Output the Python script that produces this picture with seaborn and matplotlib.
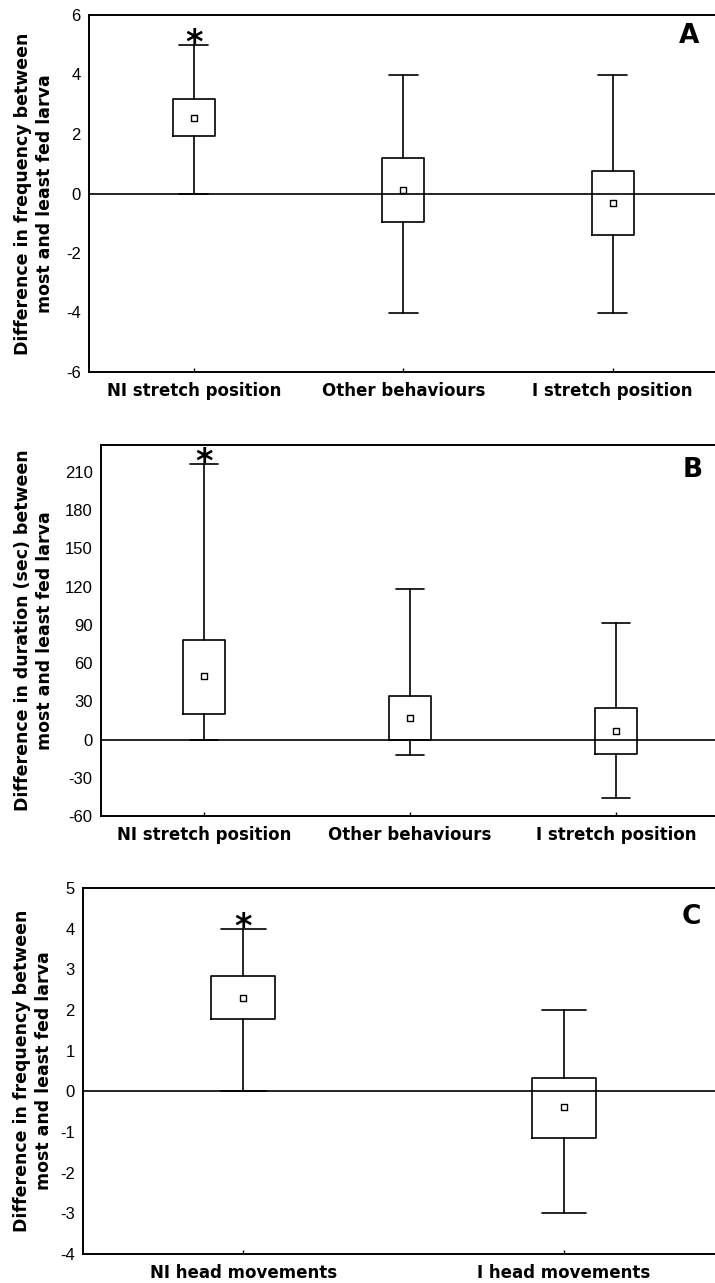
import numpy as np
import seaborn as sns
import matplotlib
matplotlib.use("Agg")
import matplotlib.pyplot as plt

# Panel A - frequency
a_cats = ["NI stretch position", "Other behaviours", "I stretch position"]
a_mean = [2.55, 0.12, -0.33]
a_box_lo = [1.92, -0.95, -1.38]
a_box_hi = [3.18, 1.20, 0.77]
a_whis_lo = [0, -4, -4]
a_whis_hi = [5, 4, 4]
a_sig = [True, False, False]

# Panel B - duration (sec)
b_cats = ["NI stretch position", "Other behaviours", "I stretch position"]
b_mean = [50, 17, 7]
b_box_lo = [20, 0, -11]
b_box_hi = [78, 34, 25]
b_whis_lo = [0, -12.5, -46]
b_whis_hi = [216, 118, 91]
b_sig = [True, False, False]

# Panel C - head movements
c_cats = ["NI head movements", "I head movements"]
c_mean = [2.3, -0.38]
c_box_lo = [1.78, -1.15]
c_box_hi = [2.83, 0.34]
c_whis_lo = [0, -3]
c_whis_hi = [4, 2]
c_sig = [True, False]

sns.set_style("white")
plt.rcParams["font.family"] = ["Liberation Sans", "DejaVu Sans"]
plt.rcParams["axes.unicode_minus"] = False
plt.rcParams["text.color"] = "black"
plt.rcParams["xtick.color"] = "black"
plt.rcParams["ytick.color"] = "black"
plt.rcParams["axes.labelcolor"] = "black"

W, H = 715, 1283
fig = plt.figure(figsize=(W / 100, H / 100), dpi=100)


def px_axes(left, top, right, bottom):
    return fig.add_axes([left / W, 1 - bottom / H, (right - left) / W, (bottom - top) / H])


def panel(ax, cats, mean, lo, hi, wlo, whi, sig, ylim, yticks, ylabel, letter, lab_x, let_xy):
    pos = np.arange(len(cats))
    stats = []
    for i in range(len(cats)):
        stats.append(dict(med=mean[i], mean=mean[i], q1=lo[i], q3=hi[i],
                          whislo=wlo[i], whishi=whi[i], fliers=[]))
    lp = dict(color="black", linewidth=1.2)
    ax.bxp(stats, positions=pos, widths=0.2, capwidths=0.14, showfliers=False,
           boxprops=lp, whiskerprops=lp, capprops=lp,
           medianprops=dict(visible=False), manage_ticks=False)
    ax.axhline(0, color="black", linewidth=1.2, zorder=1)
    # mean markers
    sns.scatterplot(x=pos, y=mean, marker="s", s=22, color="white",
                    edgecolor="black", linewidth=1.0, zorder=5, ax=ax, legend=False)
    for i in range(len(cats)):
        if sig[i]:
            ax.annotate("*", xy=(pos[i], whi[i]), xytext=(0, -6), textcoords="offset points",
                        ha="center", va="baseline", fontsize=24, fontweight="bold",
                        family="DejaVu Sans")
    ax.set_xlim(-0.5, len(cats) - 0.5)
    ax.set_ylim(*ylim)
    ax.set_yticks(yticks)
    ax.set_xticks(pos)
    ax.set_xticklabels(cats, fontsize=12, fontweight="bold", family="DejaVu Sans")
    ax.tick_params(axis="x", direction="in", length=3, width=1, pad=7, bottom=True)
    ax.tick_params(axis="y", length=0, pad=6, labelsize=12, left=True)
    ax.set_ylabel(ylabel, fontsize=12.5, fontweight="bold", family="DejaVu Sans", linespacing=1.3)
    ax.yaxis.label.set_va("center")
    ax.yaxis.set_label_coords(lab_x, 0.5)
    ax.text(let_xy[0], let_xy[1], letter, transform=ax.transAxes, ha="center", va="center",
            fontsize=19, fontweight="bold", family="DejaVu Sans")
    sns.despine(ax=ax, top=False, right=True)
    for s in ["left", "top", "bottom"]:
        ax.spines[s].set_linewidth(1.4)
        ax.spines[s].set_color("black")


ax_a = px_axes(89, 15, 717.5, 372)
panel(ax_a, a_cats, a_mean, a_box_lo, a_box_hi, a_whis_lo, a_whis_hi, a_sig,
      (-6, 6), range(-6, 7, 2),
      "Difference in frequency between\nmost and least fed larva", "A",
      -0.0875, (0.955, 0.941))

ax_b = px_axes(101, 445, 719, 816)
panel(ax_b, b_cats, b_mean, b_box_lo, b_box_hi, b_whis_lo, b_whis_hi, b_sig,
      (-60, 231), range(-60, 211, 30),
      "Difference in duration (sec) between\nmost and least fed larva", "B",
      -0.108, (0.958, 0.933))

ax_c = px_axes(83, 888, 724.4, 1254)
panel(ax_c, c_cats, c_mean, c_box_lo, c_box_hi, c_whis_lo, c_whis_hi, c_sig,
      (-4, 5), range(-4, 6, 1),
      "Difference in frequency between\nmost and least fed larva", "C",
      -0.078, (0.949, 0.922))

fig.savefig("out.png", dpi=100)
